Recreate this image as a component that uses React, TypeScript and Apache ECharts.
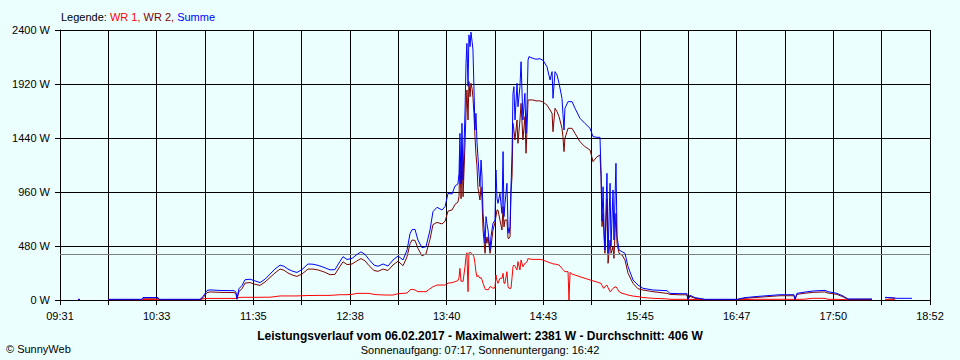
import React, { useEffect, useRef } from 'react';
import * as echarts from 'echarts';

// x-axis tick labels (every second grid line is labelled)
const xTickLabels = ['09:31', '10:33', '11:35', '12:38', '13:40', '14:43', '15:45', '16:47', '17:50', '18:52'];
const gridStepSeconds = 1870; // 31 min 10 s between vertical grid lines
const axisEndSeconds = 33660; // 09:31 -> 18:52

// sample times, minutes after 09:31
const minutesSince0931 = [
  11.6, 12.9, 14.2, 31.0, 52.9, 53.5, 63.2, 63.8, 90.3, 92.2,
  94.8, 96.7, 103.2, 112.2, 113.5, 114.1, 115.4, 117.4, 119.3, 122.5,
  125.7, 129.0, 132.2, 135.4, 138.6, 141.9, 144.4, 147.0, 150.2, 152.8,
  156.0, 159.9, 163.1, 166.4, 170.2, 174.1, 177.3, 180.6, 182.5, 185.1,
  188.3, 191.5, 194.1, 196.7, 199.3, 202.5, 205.1, 208.3, 211.5, 214.7,
  218.0, 221.2, 223.8, 225.7, 227.0, 228.9, 230.8, 233.4, 236.0, 238.6,
  240.5, 243.1, 246.3, 248.3, 250.2, 252.8, 254.7, 256.6, 257.3, 257.9,
  258.6, 259.2, 259.9, 261.2, 261.8, 262.4, 263.1, 263.7, 264.4, 265.0,
  265.7, 266.3, 266.9, 267.6, 268.2, 268.9, 269.5, 270.8, 271.5, 272.1,
  272.8, 274.1, 274.7, 275.3, 276.0, 277.3, 277.9, 279.2, 280.5, 281.1,
  281.8, 282.4, 283.7, 285.0, 285.7, 286.3, 286.9, 288.2, 288.9, 289.5,
  290.2, 290.8, 291.5, 292.1, 292.7, 293.4, 294.7, 295.3, 296.6, 297.3,
  298.5, 299.8, 300.5, 301.1, 301.8, 302.4, 305.0, 306.9, 309.5, 311.5,
  314.0, 316.0, 317.3, 317.9, 319.2, 320.5, 321.8, 323.7, 324.3, 325.0,
  325.6, 327.6, 328.2, 328.9, 330.2, 332.1, 335.3, 338.5, 341.8, 343.7,
  346.3, 348.2, 348.9, 349.5, 350.2, 350.8, 351.4, 352.7, 353.4, 354.7,
  355.3, 356.6, 357.2, 358.5, 359.2, 360.5, 362.4, 364.3, 366.3, 369.5,
  372.7, 375.9, 382.4, 391.4, 393.3, 399.8, 404.3, 404.9, 406.2, 409.5,
  415.9, 436.6, 438.5, 441.7, 448.2, 464.3, 473.3, 474.0, 475.2, 479.1,
  485.5, 493.3, 495.2, 501.0, 504.9, 508.1, 523.6, 524.2, 532.0, 538.4,
  539.1, 549.4,
];

// WR 1 (W)
const wr1 = [
  2, 2, null, 2, 2, 4, 4, 2, 2, 10,
  14, 14, 14, 14, 14, 14, 22, 24, 24, 24,
  24, 24, 25, 25, 30, 36, 36, 36, 36, 36,
  38, 40, 40, 41, 41, 41, 44, 47, 47, 47,
  50, 59, 59, 59, 59, 50, 47, 45, 44, 44,
  56, 59, 62, 90, 95, 90, 74, 74, 74, 100,
  118, 133, 133, 133, 150, 154, 163, 172, 200, 281,
  165, 170, 165, 300, 385, 420, 74, 420, 420, 420,
  410, 400, 385, 326, 250, 207, 220, 193, 200, 180,
  148, 100, 89, 95, 89, 118, 118, 104, 110, 222,
  170, 148, 193, 193, 237, 150, 148, 252, 118, 104,
  104, 104, 200, 296, 311, 300, 267, 341, 267, 356,
  296, 326, 330, 340, 370, 365, 361, 361, 361, 355,
  341, 330, 326, 320, 320, 315, 311, 281, 270, 260,
  252, 252, 0, 245, 230, 222, 207, 193, 178, 170,
  160, 150, 148, 130, 110, 104, 120, 133, 110, 74,
  80, 104, 110, 118, 104, 74, 60, 53, 44, 35,
  30, 22, 15, 10, 6, 6, 6, 2, 6, 4,
  2, 2, 3, 4, 6, 6, 6, 2, 6, 6,
  15, 15, 6, 6, 4, 2, 2, null, 3, 3,
  null, null,
];

// WR 2 (W)
const wr2 = [
  4, 4, null, 4, 4, 16, 16, 4, 4, 20,
  65, 72, 68, 66, 56, 6, 75, 100, 150, 155,
  140, 130, 160, 200, 240, 275, 265, 240, 220, 210,
  230, 275, 275, 267, 250, 225, 228, 300, 340, 315,
  320, 348, 368, 348, 305, 262, 255, 275, 262, 311,
  345, 305, 385, 500, 533, 530, 460, 392, 410, 540,
  670, 690, 676, 700, 790, 800, 850, 870, 920, 1274,
  900, 1300, 918, 1400, 1659, 1867, 1600, 1941, 1807, 1926,
  1880, 1800, 1659, 1452, 1300, 1185, 1000, 889, 1007, 900,
  622, 415, 560, 504, 563, 415, 470, 622, 690, 741,
  800, 800, 711, 622, 830, 650, 711, 711, 548, 548,
  563, 948, 1100, 1570, 1511, 1422, 1600, 1393, 1600, 1748,
  1422, 1630, 1304, 1500, 1778, 1778, 1778, 1770, 1770, 1760,
  1733, 1689, 1659, 1496, 1704, 1674, 1630, 1526, 1452, 1319,
  1437, 1526, 1526, 1526, 1526, 1481, 1407, 1363, 1333, 1230,
  1274, 1289, 1096, 652, 770, 560, 415, 900, 326, 533,
  415, 474, 370, 770, 500, 415, 400, 356, 237, 148,
  100, 89, 74, 59, 50, 46, 46, 3, 33, 15,
  4, 4, 8, 15, 22, 38, 38, 4, 50, 58,
  68, 72, 62, 50, 28, 6, 6, null, 21, 15,
  null, null,
];

// Summe (W)
const summe = [
  6, 6, null, 6, 6, 22, 22, 6, 6, 30,
  85, 90, 85, 83, 70, 10, 100, 130, 180, 185,
  170, 155, 185, 230, 275, 310, 300, 275, 255, 245,
  270, 320, 318, 308, 290, 268, 270, 345, 385, 360,
  370, 405, 428, 405, 360, 310, 300, 320, 302, 355,
  391, 356, 445, 590, 625, 628, 533, 465, 474, 622,
  785, 824, 800, 830, 948, 942, 1013, 1031, 1126, 1481,
  1031, 1570, 1067, 1689, 2104, 2281, 1900, 2356, 2252, 2381,
  2300, 2222, 1900, 1511, 1659, 1400, 1274, 1007, 1244, 1100,
  770, 504, 741, 680, 622, 444, 563, 681, 711, 1156,
  900, 859, 948, 770, 1319, 741, 850, 1037, 652, 593,
  652, 1000, 1300, 1837, 1896, 1600, 1926, 1718, 1896, 2118,
  1600, 1837, 1481, 1700, 2133, 2163, 2148, 2140, 2145, 2130,
  2074, 1956, 2030, 1793, 2030, 2000, 1926, 1793, 1659, 1511,
  1704, 1763, 1763, 1763, 1763, 1704, 1615, 1570, 1526, 1452,
  1446, 1446, 1126, 700, 1007, 652, 444, 1126, 415, 1037,
  474, 978, 533, 1215, 560, 444, 430, 415, 296, 178,
  133, 104, 89, 83, 59, 56, 56, 5, 42, 21,
  6, 6, 12, 21, 30, 47, 47, 6, 59, 68,
  80, 86, 74, 59, 36, 9, 9, null, 24, 18,
  15, 15,
];

const averageW = 406;
const yTickValuesW = [0, 480, 960, 1440, 1920, 2400];
const legendNames = ['WR 1', 'WR 2', 'Summe'];
const seriesColors = ['#ff0000', '#800000', '#0000ff'];
const titleText = 'Leistungsverlauf vom 06.02.2017 - Maximalwert: 2381 W - Durchschnitt: 406 W';
const sunText = 'Sonnenaufgang: 07:17, Sonnenuntergang: 16:42';
const copyrightText = '\u00A9 SunnyWeb';

const FONT = '"Liberation Sans", Arial, sans-serif';

function pairs(values: (number | null)[]) {
  return minutesSince0931.map((m, i) => [m * 60, values[i] === null ? null : values[i]]);
}

export default function App() {
  const ref = useRef<HTMLDivElement>(null);
  useEffect(() => {
    if (!ref.current) return;
    const chart = echarts.init(ref.current, undefined, { renderer: 'svg' });
    const seriesValues = [wr1, wr2, summe];
    const option: any = {
      animation: false,
      backgroundColor: '#ebffff',
      textStyle: { fontFamily: FONT },
      grid: { left: 60, right: 30, top: 30, bottom: 60, containLabel: false },
      xAxis: {
        type: 'value',
        min: 0,
        max: axisEndSeconds,
        interval: gridStepSeconds,
        axisLine: { show: true, lineStyle: { color: '#000', width: 1 } },
        axisTick: { show: true, length: 5, lineStyle: { color: '#000' } },
        splitLine: { show: true, lineStyle: { color: '#000', width: 1 } },
        axisLabel: {
          color: '#000',
          fontSize: 11,
          fontFamily: FONT,
          margin: 10,
          showMinLabel: true,
          showMaxLabel: true,
          formatter: (v: number) => {
            const k = Math.round(v / gridStepSeconds);
            return k % 2 === 0 ? xTickLabels[k / 2] ?? '' : '';
          },
        },
      },
      yAxis: {
        type: 'value',
        min: yTickValuesW[0],
        max: yTickValuesW[yTickValuesW.length - 1],
        interval: yTickValuesW[1] - yTickValuesW[0],
        axisLine: { show: true, lineStyle: { color: '#000', width: 1 } },
        axisTick: { show: true, length: 5, lineStyle: { color: '#000' } },
        splitLine: { show: true, lineStyle: { color: '#000', width: 1 } },
        axisLabel: {
          color: '#000',
          fontSize: 11,
          fontFamily: FONT,
          margin: 10,
          formatter: (v: number) => `${v} W`,
        },
      },
      series: seriesValues.map((vals, i) => ({
        name: legendNames[i],
        type: 'line',
        data: pairs(vals),
        showSymbol: false,
        symbol: 'none',
        connectNulls: false,
        lineStyle: { color: seriesColors[i], width: 1 },
        itemStyle: { color: seriesColors[i] },
        z: 3 + i,
        markLine:
          i === 0
            ? {
                silent: true,
                symbol: 'none',
                label: { show: false },
                lineStyle: { color: '#808080', width: 1, type: 'solid' },
                data: [{ yAxis: averageW }],
              }
            : undefined,
      })),
      graphic: [
        {
          type: 'text',
          x: 61,
          y: 17,
          style: {
            text: `{k|Legende:} {a|${legendNames[0]},} {b|${legendNames[1]},} {c|${legendNames[2]}}`,
            fontSize: 11,
            fontFamily: FONT,
            verticalAlign: 'middle',
            rich: {
              k: { fill: '#000', fontSize: 11, fontFamily: FONT },
              a: { fill: seriesColors[0], fontSize: 11, fontFamily: FONT },
              b: { fill: seriesColors[1], fontSize: 11, fontFamily: FONT },
              c: { fill: seriesColors[2], fontSize: 11, fontFamily: FONT },
            },
          },
        },
        {
          type: 'text',
          x: 480,
          y: 336,
          style: {
            text: titleText,
            fontSize: 12,
            fontWeight: 'bold',
            fontFamily: FONT,
            fill: '#000',
            align: 'center',
            verticalAlign: 'middle',
          },
        },
        {
          type: 'text',
          x: 480,
          y: 350,
          style: {
            text: sunText,
            fontSize: 11,
            fontFamily: FONT,
            fill: '#000',
            align: 'center',
            verticalAlign: 'middle',
          },
        },
        {
          type: 'text',
          x: 6,
          y: 349,
          style: {
            text: copyrightText,
            fontSize: 11,
            fontFamily: FONT,
            fill: '#000',
            align: 'left',
            verticalAlign: 'middle',
          },
        },
      ],
    };
    chart.setOption(option);
    return () => chart.dispose();
  }, []);
  return (
    <div
      ref={ref}
      style={{ position: 'absolute', left: 0, top: 0, width: 960, height: 360 }}
    />
  );
}
